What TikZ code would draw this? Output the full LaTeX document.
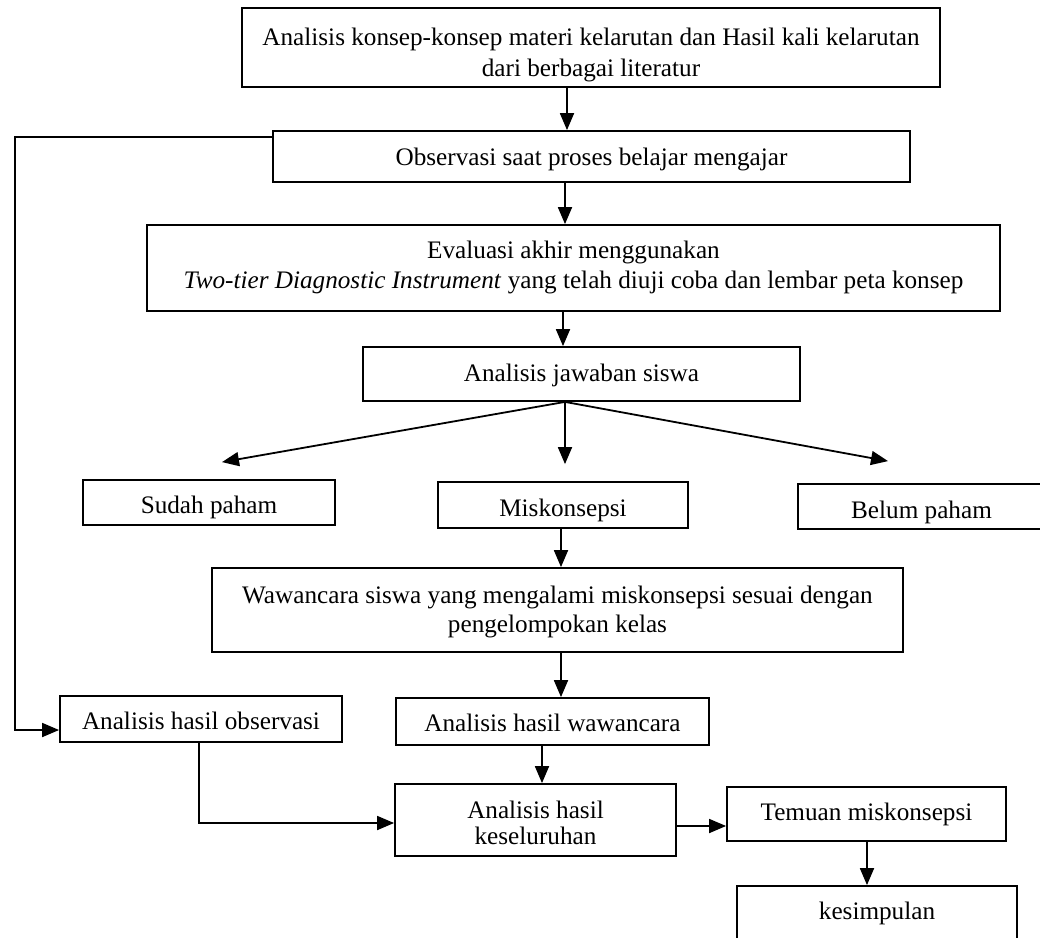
\documentclass[tikz,border=0pt]{standalone}
\usepackage{fontspec}
\setmainfont{Liberation Serif}
\usetikzlibrary{arrows.meta}
\newcommand{\boxtext}[2]{\raisebox{-#1}[0pt][0pt]{\begin{tabular}[t]{@{}c@{}}#2\end{tabular}}}
\begin{document}
\begin{tikzpicture}[x=0.5pt,y=-0.5pt,
  box/.style={draw, line width=0.9pt, inner sep=0pt,
    font=\fontsize{12.6}{15}\selectfont},
  arr/.style={line width=0.9pt, -{Triangle[length=8.5pt,width=7pt]}}]
\useasboundingbox (0,0) rectangle (1040,938);
\node[box, minimum width=349pt, minimum height=39.5pt] (top) at (591,47.5)
  {\boxtext{-1.25pt}{Analisis konsep-konsep materi kelarutan dan Hasil kali kelarutan\\[0.8pt]dari berbagai literatur}};
\node[box, minimum width=318.5pt, minimum height=25.5pt] (obs) at (591.5,156.5)
  {\boxtext{4.25pt}{Observasi saat proses belajar mengajar}};
\node[box, minimum width=426.5pt, minimum height=43pt] (eval) at (573.5,268)
  {\boxtext{-4.85pt}{Evaluasi akhir menggunakan\\\textit{Two-tier Diagnostic Instrument} yang telah diuji coba dan lembar peta konsep}};
\node[box, minimum width=218.5pt, minimum height=27pt] (jaw) at (581.5,374)
  {\boxtext{3.85pt}{Analisis jawaban siswa}};
\node[box, minimum width=126pt, minimum height=22.5pt] (sudah) at (209,502.5)
  {\boxtext{5.4pt}{Sudah paham}};
\node[box, minimum width=125pt, minimum height=23pt] (misk) at (563,505)
  {\boxtext{5.5pt}{Miskonsepsi}};
\node[box, minimum width=123.5pt, minimum height=22.5pt] (belum) at (921.5,506.5)
  {\boxtext{5.9pt}{Belum paham}};
\node[box, minimum width=345.5pt, minimum height=42pt] (waw) at (557.5,610)
  {\boxtext{-3.5pt}{Wawancara siswa yang mengalami miskonsepsi sesuai dengan\\[-0.5pt]pengelompokan kelas}};
\node[box, minimum width=141pt, minimum height=23pt] (aho) at (201,719)
  {\boxtext{5.15pt}{Analisis hasil observasi}};
\node[box, minimum width=156.5pt, minimum height=23.5pt] (ahw) at (552.5,721.5)
  {\boxtext{5pt}{Analisis hasil wawancara}};
\node[box, minimum width=140.5pt, minimum height=36pt] (ahk) at (535.5,820)
  {\boxtext{-0.85pt}{Analisis hasil\\[-1.7pt]keseluruhan}};
\node[box, minimum width=139.5pt, minimum height=27pt] (tem) at (866.5,814)
  {\boxtext{3pt}{Temuan miskonsepsi}};
\node[box, minimum width=140pt, minimum height=27pt] (kes) at (877,913)
  {\boxtext{3.15pt}{kesimpulan}};
% vertical arrows
\draw[arr] ([xshift=-12pt]top.south) -- ([xshift=-12pt]top.south |- obs.north);
\draw[arr] ([xshift=-13.25pt]obs.south) -- ([xshift=-13.25pt]obs.south |- eval.north);
\draw[arr] ([xshift=-5.25pt]eval.south) -- ([xshift=-5.25pt]eval.south |- jaw.north);
% fan
\coordinate (fan) at ([xshift=-8.25pt]jaw.south);
\coordinate (sudahtip) at ([xshift=6.5pt,yshift=8.5pt]sudah.north);
\coordinate (misktip) at ([yshift=8.5pt]misk.north);
\coordinate (belumtip) at ([xshift=-16.75pt,yshift=11pt]belum.north);
\draw[arr] (fan) -- (sudahtip);
\draw[arr] (fan) -- (fan |- misktip);
\draw[arr] (fan) -- (belumtip);
\draw[arr] ([xshift=-1pt]misk.south) -- ([xshift=-1pt]misk.south |- waw.north);
\draw[arr] ([xshift=1.75pt]waw.south) -- ([xshift=1.75pt]waw.south |- ahw.north);
\draw[arr] ([xshift=-5.25pt]ahw.south) -- ([xshift=-5.25pt]ahw.south |- ahk.north);
% left loop
\coordinate (rail) at (15,0);
\draw[arr] ([yshift=9.75pt]obs.west) -| (rail |- aho.west) |- ([yshift=-5.5pt]aho.west);
% observation to overall
\draw[arr] ([xshift=-1pt]aho.south) |- ([yshift=-1.5pt]ahk.west);
\draw[arr] ([yshift=-3pt]ahk.east) -- ([yshift=-6pt]tem.west);
\draw[arr] ([xshift=0.25pt]tem.south) -- ([xshift=0.25pt]tem.south |- kes.north);
\end{tikzpicture}
\end{document}
